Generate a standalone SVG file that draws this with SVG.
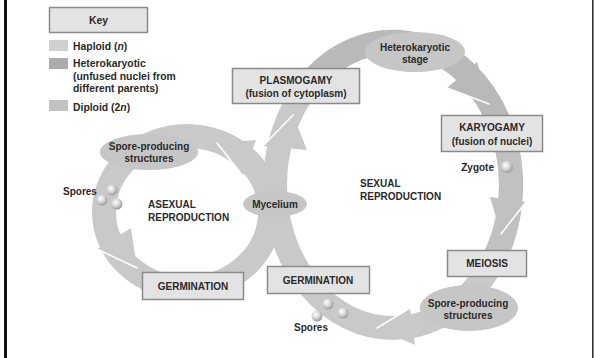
<svg xmlns="http://www.w3.org/2000/svg" width="594" height="358" viewBox="0 0 594 358">
<defs>
<radialGradient id="sph" cx="0.38" cy="0.35" r="0.65">
<stop offset="0" stop-color="#ffffff"/>
<stop offset="0.5" stop-color="#d9d9d9"/>
<stop offset="1" stop-color="#9c9c9c"/>
</radialGradient>
<style>
.t{font-family:"Liberation Sans",Arial,sans-serif;font-weight:bold;font-size:10px;fill:#2a2a2a}
.lg{font-size:10.4px}
.c{text-anchor:middle}
.box{fill:#e3e3e3;stroke:#8a8a8a;stroke-width:1.5}
.ell{fill:#c6c6c6}
.ring{fill:none;stroke:#c9c9c9;stroke-width:24}
.hap{fill:#c9c9c9}
.het{fill:#b9b9b9}
.dip{fill:#c1c1c1}
.hl{stroke:#ffffff;stroke-width:1.5;fill:none;stroke-linecap:round}
.sph{fill:url(#sph)}
</style>
</defs>
<rect width="594" height="358" fill="#ffffff"/>
<rect x="4" y="0" width="3" height="358" fill="#111111"/>
<rect x="592" y="0" width="1.6" height="358" fill="#333333"/>

<g id="key">
<rect x="49.5" y="7.5" width="98" height="25" class="box"/>
<text x="98.5" y="24" class="t lg c">Key</text>
<rect x="49" y="40" width="19" height="11" fill="#d0d0d0"/>
<text x="73" y="50" class="t lg">Haploid (<tspan font-style="italic">n</tspan>)</text>
<rect x="49" y="58" width="19" height="11" fill="#ababab"/>
<text x="73" y="66.5" class="t lg">Heterokaryotic</text>
<text x="73" y="79.5" class="t lg">(unfused nuclei from</text>
<text x="73" y="92" class="t lg">different parents)</text>
<rect x="49" y="100" width="19" height="11" fill="#c2c2c2"/>
<text x="73" y="110.5" class="t lg">Diploid (2<tspan font-style="italic">n</tspan>)</text>
</g>

<g id="connectors">
<ellipse cx="187" cy="212" rx="83" ry="76" class="ring"/>
<ellipse cx="393" cy="185" rx="118" ry="143" class="ring"/>
<path d="M301 95 A118 143 0 0 1 500 125" class="ring" style="stroke:#b9b9b9"/>
<path d="M505 140 A118 143 0 0 1 492.5 262" class="ring" style="stroke:#c1c1c1"/>
<polygon points="217,143 256,140 243,176" class="hap"/>
<line x1="217" y1="143" x2="243" y2="176" class="hl"/>
<polygon points="97,249 131,228 137,268" class="hap"/>
<line x1="97" y1="249" x2="137" y2="268" class="hl"/>
<polygon points="263,146 307,150 293,115" class="hap"/>
<line x1="263" y1="146" x2="293" y2="115" class="hl"/>
<polygon points="447,88 477,62 489,104" class="het"/>
<line x1="447" y1="88" x2="489" y2="104" class="hl"/>
<polygon points="490,197 526,202 501,234" class="dip"/>
<line x1="501" y1="234" x2="526" y2="202" class="hl"/>
<polygon points="410,308 415,345 377,328" class="hap"/>
<line x1="377" y1="328" x2="410" y2="308" class="hl"/>
</g>

<g id="spore-producing-asexual">
<ellipse cx="149" cy="152" rx="49" ry="18" class="ell"/>
<text x="149" y="149.5" class="t c">Spore-producing</text>
<text x="149" y="162" class="t c">structures</text>
</g>

<g id="spores-asexual">
<circle cx="112" cy="190" r="5.5" class="sph"/>
<circle cx="102" cy="200" r="5.5" class="sph"/>
<circle cx="117" cy="204" r="5.5" class="sph"/>
<text x="63" y="194.5" class="t">Spores</text>
</g>

<g id="asexual-label">
<text x="148" y="207.5" class="t">ASEXUAL</text>
<text x="148" y="220.5" class="t">REPRODUCTION</text>
</g>

<g id="mycelium">
<ellipse cx="275" cy="204" rx="32" ry="13" class="ell"/>
<text x="275" y="207.7" class="t c">Mycelium</text>
</g>

<g id="germination-asexual">
<rect x="142.5" y="272.5" width="101" height="27" class="box"/>
<text x="193" y="289.7" class="t c">GERMINATION</text>
</g>

<g id="plasmogamy">
<rect x="232.5" y="68.5" width="127" height="35" class="box"/>
<text x="296" y="83.7" class="t c">PLASMOGAMY</text>
<text x="296" y="96.5" class="t c">(fusion of cytoplasm)</text>
</g>

<g id="heterokaryotic-stage">
<ellipse cx="415" cy="52" rx="50" ry="20" class="ell"/>
<text x="415" y="50.5" class="t c">Heterokaryotic</text>
<text x="415" y="63" class="t c">stage</text>
</g>

<g id="karyogamy">
<rect x="441.5" y="115.5" width="101" height="36" class="box"/>
<text x="492" y="130.5" class="t c">KARYOGAMY</text>
<text x="492" y="144.5" class="t c">(fusion of nuclei)</text>
</g>

<g id="zygote">
<circle cx="507" cy="167" r="6" class="sph"/>
<text x="494" y="171" class="t" text-anchor="end">Zygote</text>
</g>

<g id="sexual-label">
<text x="360" y="187" class="t">SEXUAL</text>
<text x="360" y="200" class="t">REPRODUCTION</text>
</g>

<g id="meiosis">
<rect x="447.5" y="250.5" width="79" height="26" class="box"/>
<text x="487" y="266.5" class="t c">MEIOSIS</text>
</g>

<g id="spore-producing-sexual">
<ellipse cx="469" cy="308" rx="49" ry="23" class="ell"/>
<text x="468" y="306.5" class="t c">Spore-producing</text>
<text x="468" y="318.8" class="t c">structures</text>
</g>

<g id="germination-sexual">
<rect x="267.5" y="266.5" width="102" height="27" class="box"/>
<text x="318" y="283.7" class="t c">GERMINATION</text>
</g>

<g id="spores-sexual">
<circle cx="328" cy="304" r="5.5" class="sph"/>
<circle cx="317" cy="316" r="5.5" class="sph"/>
<circle cx="343" cy="313" r="5.5" class="sph"/>
<text x="311" y="330.7" class="t c">Spores</text>
</g>
</svg>
